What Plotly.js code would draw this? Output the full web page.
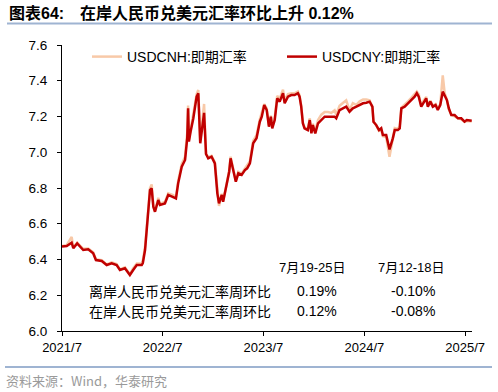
<!DOCTYPE html>
<html><head><meta charset="utf-8">
<script src="https://cdn.plot.ly/plotly-3.0.1.min.js"></script>
<style>html,body{margin:0;padding:0;background:#fff}#c{width:498px;height:392px}</style>
</head><body><div id="c"></div>
<script>
const dates = ["2021-07-01","2021-07-18","2021-08-05","2021-08-11","2021-08-25","2021-09-16","2021-10-04","2021-10-22","2021-11-01","2021-11-22","2021-12-10","2021-12-28","2022-01-15","2022-01-27","2022-02-14","2022-03-04","2022-03-16","2022-03-29","2022-04-16","2022-04-20","2022-04-28","2022-05-06","2022-05-13","2022-05-16","2022-05-22","2022-05-28","2022-06-03","2022-06-15","2022-06-21","2022-07-09","2022-07-21","2022-08-08","2022-08-18","2022-08-26","2022-09-08","2022-09-20","2022-09-23","2022-09-28","2022-10-01","2022-10-04","2022-10-10","2022-10-20","2022-11-01","2022-11-07","2022-11-09","2022-11-14","2022-11-28","2022-12-05","2022-12-13","2022-12-25","2023-01-06","2023-01-15","2023-01-21","2023-01-31","2023-02-05","2023-02-18","2023-02-27","2023-03-04","2023-03-14","2023-03-23","2023-04-01","2023-04-13","2023-04-25","2023-05-03","2023-05-13","2023-05-25","2023-06-06","2023-06-18","2023-06-25","2023-07-04","2023-07-13","2023-07-21","2023-07-28","2023-08-02","2023-08-11","2023-08-20","2023-08-29","2023-09-10","2023-09-16","2023-09-28","2023-10-10","2023-10-22","2023-11-03","2023-11-09","2023-11-15","2023-11-21","2023-11-27","2023-12-09","2023-12-16","2023-12-22","2023-12-27","2024-01-05","2024-01-15","2024-01-27","2024-02-08","2024-02-20","2024-03-03","2024-03-15","2024-03-21","2024-04-02","2024-04-14","2024-04-26","2024-05-08","2024-05-20","2024-06-02","2024-06-14","2024-06-26","2024-07-08","2024-07-20","2024-07-30","2024-08-03","2024-08-13","2024-08-23","2024-08-31","2024-09-06","2024-09-18","2024-09-30","2024-10-12","2024-10-19","2024-10-30","2024-11-06","2024-11-12","2024-11-24","2024-12-06","2024-12-18","2024-12-30","2025-01-07","2025-01-14","2025-01-23","2025-02-01","2025-02-10","2025-02-16","2025-02-25","2025-03-06","2025-03-16","2025-03-24","2025-04-02","2025-04-11","2025-04-18","2025-04-26","2025-05-03","2025-05-12","2025-05-24","2025-06-05","2025-06-17","2025-06-29","2025-07-07","2025-07-25"];

const usdcny = [6.472,6.475,6.494,6.463,6.490,6.453,6.457,6.435,6.397,6.392,6.369,6.379,6.369,6.341,6.351,6.313,6.341,6.369,6.369,6.380,6.453,6.602,6.733,6.789,6.798,6.695,6.667,6.733,6.705,6.714,6.761,6.751,6.742,6.826,6.919,6.957,7.012,7.080,7.246,7.060,7.115,7.190,7.311,7.330,7.250,7.050,7.220,6.990,6.966,6.975,6.938,6.770,6.714,6.761,6.723,6.817,6.891,6.966,6.900,6.835,6.882,6.873,6.900,6.910,6.938,7.050,7.078,7.171,7.199,7.264,7.236,7.143,7.199,7.134,7.180,7.302,7.283,7.330,7.274,7.311,7.320,7.320,7.330,7.311,7.255,7.162,7.134,7.124,7.180,7.106,7.152,7.106,7.162,7.180,7.199,7.199,7.199,7.199,7.190,7.236,7.246,7.255,7.227,7.246,7.255,7.264,7.274,7.277,7.283,7.255,7.171,7.152,7.124,7.134,7.096,7.096,7.016,7.078,7.124,7.124,7.134,7.246,7.255,7.274,7.292,7.311,7.330,7.311,7.255,7.283,7.302,7.255,7.283,7.255,7.264,7.236,7.264,7.339,7.320,7.292,7.246,7.208,7.208,7.190,7.190,7.171,7.180,7.176];

const usdcnh = [6.476,6.480,6.526,6.468,6.495,6.460,6.462,6.440,6.402,6.396,6.372,6.384,6.374,6.345,6.356,6.318,6.352,6.378,6.378,6.395,6.470,6.620,6.750,6.800,6.820,6.700,6.672,6.745,6.712,6.722,6.770,6.760,6.748,6.840,6.935,6.975,7.030,7.110,7.262,7.070,7.125,7.210,7.325,7.348,7.260,7.060,7.270,6.990,6.972,6.980,6.945,6.765,6.700,6.768,6.728,6.825,6.900,6.975,6.905,6.840,6.890,6.880,6.910,6.925,6.950,7.065,7.095,7.185,7.220,7.270,7.245,7.150,7.205,7.140,7.195,7.315,7.300,7.350,7.290,7.325,7.330,7.330,7.340,7.320,7.260,7.165,7.140,7.130,7.190,7.115,7.160,7.120,7.180,7.210,7.225,7.225,7.220,7.235,7.210,7.260,7.275,7.290,7.235,7.275,7.265,7.285,7.295,7.295,7.290,7.250,7.170,7.150,7.120,7.125,7.090,7.085,6.975,7.085,7.135,7.130,7.145,7.250,7.265,7.285,7.305,7.330,7.340,7.325,7.260,7.290,7.310,7.260,7.290,7.260,7.270,7.245,7.270,7.430,7.330,7.295,7.240,7.210,7.200,7.190,7.185,7.170,7.175,7.172];

const tickDates = ["2021-07-01","2022-07-01","2023-07-01","2024-07-01","2025-07-01"];
const tickLabels = ["2021/7","2022/7","2023/7","2024/7","2025/7"];
const seriesNames = ["USDCNH:即期汇率","USDCNY:即期汇率"];
const tableHead = ["7月19-25日","7月12-18日"];
const rowLabels = ["离岸人民币兑美元汇率周环比","在岸人民币兑美元汇率周环比"];
const thisWeek = ["0.19%","0.12%"];
const lastWeek = ["-0.10%","-0.08%"];
const titleLabel = "图表64:";
const titleText = "在岸人民币兑美元汇率环比上升 0.12%";
const sourceText = "资料来源：Wind，华泰研究";

const L=62, R=472, T=45, B=331;
const px = x => (x - L) / (R - L);
const py = y => (B - y) / (B - T);

const font = "Liberation Sans, Arial, Noto Sans CJK SC, sans-serif";
const cjk = "Noto Sans CJK SC, sans-serif";

const traces = [
  {x: dates, y: usdcnh, name: seriesNames[0], type: "scatter", mode: "lines",
   line: {color: "#F8C9A8", width: 2.5}},
  {x: dates, y: usdcny, name: seriesNames[1], type: "scatter", mode: "lines",
   line: {color: "#C00000", width: 2.5}}
];

const ann = [];
ann.push({text: "<b>" + titleLabel + "</b>", x: px(7), y: py(13), xref: "paper", yref: "paper", showarrow: false,
  xanchor: "left", yanchor: "middle", font: {family: font, size: 16, color: "#000"}});
ann.push({text: "<b>" + titleText + "</b>", x: px(78), y: py(13), xref: "paper", yref: "paper", showarrow: false,
  xanchor: "left", yanchor: "middle", font: {family: font, size: 16, color: "#000"}});
tableHead.forEach((t, i) => ann.push({text: t, x: px([312, 411][i]), y: py(267), xref: "paper", yref: "paper",
  showarrow: false, xanchor: "center", yanchor: "middle", font: {family: font, size: 13, color: "#000"}}));
rowLabels.forEach((t, i) => {
  const yy = py([290.7, 310.7][i]);
  ann.push({text: t, x: px(87), y: yy, xref: "paper", yref: "paper", showarrow: false, xanchor: "left", yanchor: "middle",
    font: {family: cjk, size: 14, color: "#000"}});
  ann.push({text: thisWeek[i], x: px(317), y: yy, xref: "paper", yref: "paper", showarrow: false, xanchor: "center", yanchor: "middle",
    font: {family: font, size: 14, color: "#000"}});
  ann.push({text: lastWeek[i], x: px(413), y: yy, xref: "paper", yref: "paper", showarrow: false, xanchor: "center", yanchor: "middle",
    font: {family: font, size: 14, color: "#000"}});
});
ann.push({text: sourceText, x: px(4), y: py(380), xref: "paper", yref: "paper", showarrow: false, xanchor: "left", yanchor: "middle",
  font: {family: cjk, size: 13, color: "#9a9a9a"}});

const layout = {
  width: 498, height: 392,
  margin: {l: L, r: 498 - R, t: T, b: 392 - B, pad: 0},
  paper_bgcolor: "#fff", plot_bgcolor: "#fff",
  showlegend: true,
  legend: {orientation: "h", x: px(87), y: py(57), xanchor: "left", yanchor: "middle", bgcolor: "rgba(0,0,0,0)",
    font: {family: font, size: 14, color: "#000"}, entrywidth: 150, entrywidthmode: "pixels", tracegroupgap: 0},
  xaxis: {type: "date", range: ["2021-07-01", "2025-07-26"], tickvals: tickDates, ticktext: tickLabels,
    showgrid: false, zeroline: false, showline: true, linecolor: "#000", linewidth: 1,
    ticks: "outside", ticklen: 4, tickcolor: "#000", tickfont: {family: font, size: 13, color: "#000"}},
  yaxis: {range: [6.0, 7.6], dtick: 0.2, tick0: 6.0, tickformat: ".1f",
    showgrid: false, zeroline: false, showline: true, linecolor: "#000", linewidth: 1,
    ticks: "outside", ticklen: 4, tickcolor: "#000", ticklabelstandoff: 7, tickfont: {family: font, size: 13.5, color: "#000"}},
  shapes: [
    {type: "line", xref: "paper", yref: "paper", x0: px(7), x1: px(492), y0: py(23.5), y1: py(23.5), line: {color: "#9FB4D2", width: 2}},
    {type: "line", xref: "paper", yref: "paper", x0: px(5), x1: px(492), y0: py(367), y1: py(367), line: {color: "#9FB4D2", width: 2}}
  ],
  annotations: ann
};
Plotly.newPlot("c", traces, layout, {staticPlot: true, displayModeBar: false});
</script></body></html>
